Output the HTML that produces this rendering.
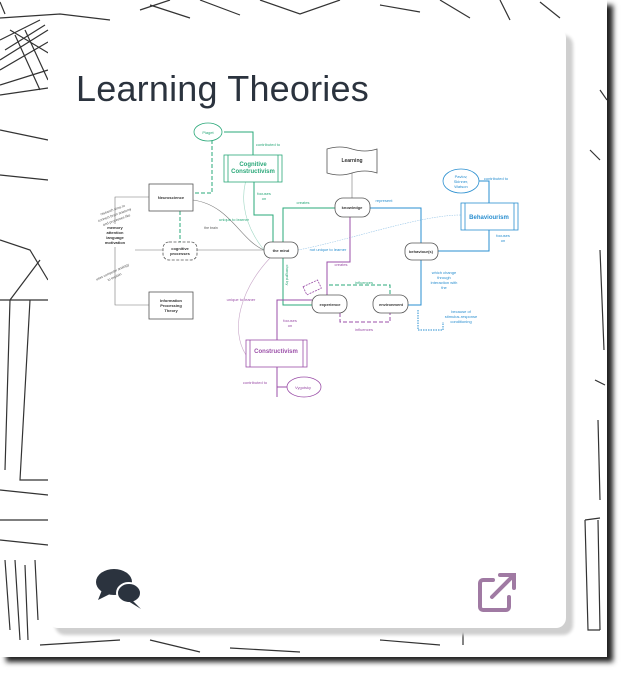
<!DOCTYPE html>
<html><head><meta charset="utf-8"><style>
html,body{margin:0;padding:0;background:#fff;}
body{width:628px;height:680px;position:relative;overflow:hidden;font-family:"Liberation Sans",sans-serif;}
.paper{position:absolute;left:0;top:0;width:607px;height:657px;background:#fff;box-shadow:6px 5px 5px #222;overflow:hidden;}
.card{position:absolute;left:48px;top:28px;width:518px;height:600px;background:#fff;border-radius:10px;box-shadow:7px 7px 3px #cfcfcf;}
.title{position:absolute;left:28px;top:40px;font-size:36px;color:#2b333e;letter-spacing:0.2px;}
svg text{font-family:"Liberation Sans",sans-serif;}
</style></head><body>
<div class="paper">
<svg width="607" height="657" style="position:absolute;left:0;top:0" fill="none" stroke="#333" stroke-width="1.2">
<path d="M0 18 L60 14 L110 20 M10 30 L60 60 M0 40 L40 20 M5 50 L45 25 M0 60 L48 30 M0 70 L48 42 M15 35 L40 90 M25 30 L48 80 M0 85 L48 70 M0 95 L48 88"/>
<path d="M0 2 L5 14 M140 10 L170 0 M150 5 L190 18 M200 0 L240 15 M260 0 L300 14 L340 0 M380 5 L420 12 M440 0 L470 18 M500 0 L510 20 M540 2 L560 18"/>
<path d="M0 130 L48 140 M0 175 L48 180 M0 240 L30 250 L48 280 M0 300 L48 300 M40 260 L10 300 L5 470 M30 300 L20 480 L48 480 M0 520 L48 520 M0 540 L48 545 M5 560 L10 630 M15 560 L20 640 M25 565 L28 640 M35 560 L38 620 M0 490 L48 495"/>
<path d="M40 645 L120 640 M150 640 L200 652 M230 648 L300 652 M380 640 L440 645"/>
<path d="M600 90 L607 100 M590 150 L600 160 M600 250 L604 350 M595 380 L605 385 M598 420 L600 500 M598 520 L600 630 M585 520 L600 518 M585 520 L588 630 L600 630"/>
<path d="M463 630 L463 645"/>
</svg>
<div class="card">
<div class="title">Learning Theories</div>
<svg width="518" height="600" style="position:absolute;left:0;top:0" font-size="4">
<g transform="translate(-48,-28)">
<!-- grey connectors -->
<g stroke="#777" stroke-width="0.6" fill="none">
<path d="M193 200 C230 205 240 240 264 250"/>
<path d="M197 250 L264 250"/><path d="M135 250 L163 250"/>
<path d="M149 197 L115 197 L115 224"/><path d="M149 305 L115 305 L115 247"/>
<path d="M352 173 L352 198"/>
<path d="M270 258 C240 290 230 330 246 355" stroke="#c9a8c9"/>
<path d="M264 250 C240 220 240 190 250 170" stroke="#9fd6c3"/>
<path d="M298 250 C350 240 420 215 461 215" stroke="#9cc8e8" stroke-dasharray="1.5 1"/>
</g>
<!-- green -->
<g stroke="#2aa879" stroke-width="1" fill="none">
<path d="M224 132 L253 132 L253 155"/>
<path d="M254 182 L254 215 L273 215 L273 242"/>
<path d="M283 258 L283 305 L312 305"/>
<path d="M283 242 L283 208 L335 208"/>
<path d="M212 140 L212 193 L193 193 M180 193 L180 242" stroke-dasharray="4 2"/>
<path d="M327 295 L327 285 L390 285 L390 295" stroke-dasharray="4 2"/>
</g>
<!-- purple -->
<g stroke="#9b4fa8" stroke-width="1" fill="none">
<path d="M277 340 L277 300 L312 300"/>
<path d="M277 397 L277 367"/><path d="M287 387 L277 387"/>
<path d="M327 296 L327 262 L350 262 L350 217"/>
<path d="M340 313 L340 322 L390 322 L390 313" stroke-dasharray="4 2"/>
</g>
<!-- blue -->
<g stroke="#2a8fd0" stroke-width="1" fill="none">
<path d="M478 181 L489 181 L489 203"/>
<path d="M489 230 L489 251 L438 251"/>
<path d="M421 243 L421 208 L370 208"/>
<path d="M421 260 L421 305 L408 305"/>
<path d="M418 310 L418 330 L443 330 L443 322" stroke-dasharray="1.5 1"/>
</g>
<!-- nodes -->
<g fill="#fff" stroke="#555" stroke-width="0.8">
<rect x="149" y="184" width="44" height="27"/>
<rect x="149" y="292" width="44" height="27"/>
<rect x="163" y="242" width="34" height="18" rx="6" stroke-dasharray="3 1.5"/>
<rect x="264" y="242" width="34" height="16" rx="7"/>
<rect x="335" y="198" width="35" height="19" rx="8"/>
<rect x="405" y="243" width="33" height="17" rx="7"/>
<rect x="312" y="295" width="35" height="18" rx="8"/>
<rect x="373" y="295" width="35" height="18" rx="8"/>
<path d="M327 149 Q340 145 352 149 Q365 153 377 149 L377 173 Q365 169 352 173 Q340 177 327 173 Z"/>
</g>
<g fill="#fff" stroke="#2aa879" stroke-width="0.8"><rect x="224" y="155" width="58" height="27"/><path d="M228 155v27M278 155v27"/>
<ellipse cx="208" cy="132" rx="14" ry="9"/></g>
<g fill="#fff" stroke="#2a8fd0" stroke-width="0.8"><rect x="461" y="203" width="57" height="27"/><path d="M465 203v27M514 203v27"/>
<ellipse cx="461" cy="181" rx="18" ry="12"/></g>
<g fill="#fff" stroke="#9b4fa8" stroke-width="0.8"><rect x="246" y="340" width="61" height="27"/><path d="M250 340v27M303 340v27"/>
<ellipse cx="304" cy="387" rx="17" ry="10"/><rect x="304" y="283" width="16" height="9" transform="rotate(-25 312 287)" stroke-dasharray="2 1"/></g>
<!-- text -->
<g fill="#333" text-anchor="middle" font-weight="bold">
<text x="171" y="199">Neuroscience</text>
<text x="171" y="302">Information</text><text x="171" y="307">Processing</text><text x="171" y="312">Theory</text>
<text x="180" y="250">cognitive</text><text x="180" y="255">processes</text>
<text x="281" y="252">the mind</text>
<text x="352" y="209">knowledge</text>
<text x="421" y="253">behaviour(s)</text>
<text x="330" y="306">experience</text>
<text x="391" y="306">environment</text>
<text x="352" y="162" font-size="5">Learning</text>
<text x="115" y="229">memory</text><text x="115" y="234">attention</text><text x="115" y="239">language</text><text x="115" y="244">motivation</text>
</g>
<g fill="#2aa879" text-anchor="middle">
<text x="253" y="166" font-size="6" font-weight="bold">Cognitive</text><text x="253" y="173" font-size="6" font-weight="bold">Constructivism</text>
<text x="208" y="134">Piaget</text><text x="268" y="146">contributed to</text>
<text x="264" y="195">focuses</text><text x="264" y="200">on</text>
<text x="303" y="204">creates</text><text x="234" y="221">unique to learner</text>
<text x="364" y="284">influences</text>
<text x="286" y="275" transform="rotate(90 286 275)">changed by</text>
</g>
<g fill="#9b4fa8" text-anchor="middle">
<text x="276" y="353" font-size="6" font-weight="bold">Constructivism</text>
<text x="303" y="389">Vygotsky</text><text x="255" y="384">contributed to</text>
<text x="290" y="322">focuses</text><text x="290" y="327">on</text>
<text x="341" y="266">creates</text><text x="364" y="331">influences</text>
<text x="241" y="301">unique to leaner</text>
</g>
<g fill="#2a8fd0" text-anchor="middle">
<text x="489" y="219" font-size="6" font-weight="bold">Behaviourism</text>
<text x="461" y="178">Pavlov,</text><text x="461" y="183">Skinner,</text><text x="461" y="188">Watson</text>
<text x="496" y="180">contributed to</text>
<text x="503" y="237">focuses</text><text x="503" y="242">on</text>
<text x="384" y="202">represent</text>
<text x="444" y="274">which change</text><text x="444" y="279">through</text><text x="444" y="284">interaction with</text><text x="444" y="289">the</text>
<text x="461" y="313">because of</text><text x="461" y="318">stimulus-response</text><text x="461" y="323">conditioning</text>
<text x="328" y="251">not unique to learner</text>
</g>
<g fill="#555" font-size="3.5" text-anchor="middle">
<text x="211" y="229">the brain</text>
<text x="113" y="211" transform="rotate(-20 113 211)">research aims to</text>
<text x="115" y="216" transform="rotate(-20 115 216)">connect brain anatomy</text>
<text x="117" y="221" transform="rotate(-20 117 221)">and processes like</text>
<text x="113" y="273" transform="rotate(-25 113 273)">uses computer analogy</text>
<text x="115" y="278" transform="rotate(-25 115 278)">to explain</text>
</g>
</g>
<!-- comment icon -->
<g transform="translate(48,540)" fill="#2b333e">
<ellipse cx="18" cy="14" rx="18" ry="13"/><path d="M6 22 L2 32 L16 25 Z"/>
<ellipse cx="33" cy="25" rx="12" ry="10" stroke="#fff" stroke-width="2"/><path d="M36 32 L45 41 L32 33 Z"/>
</g>
<!-- external link icon -->
<g transform="translate(429,544)" stroke="#a07aa3" stroke-width="4" fill="none" stroke-linecap="round">
<path d="M16 8 H6 a3 3 0 0 0 -3 3 V35 a3 3 0 0 0 3 3 H29 a3 3 0 0 0 3 -3 V25"/>
<path d="M15 25 L36 4"/><path d="M23 3 H37 V16"/>
</g>
</svg>
</div>
</div>
</body></html>
